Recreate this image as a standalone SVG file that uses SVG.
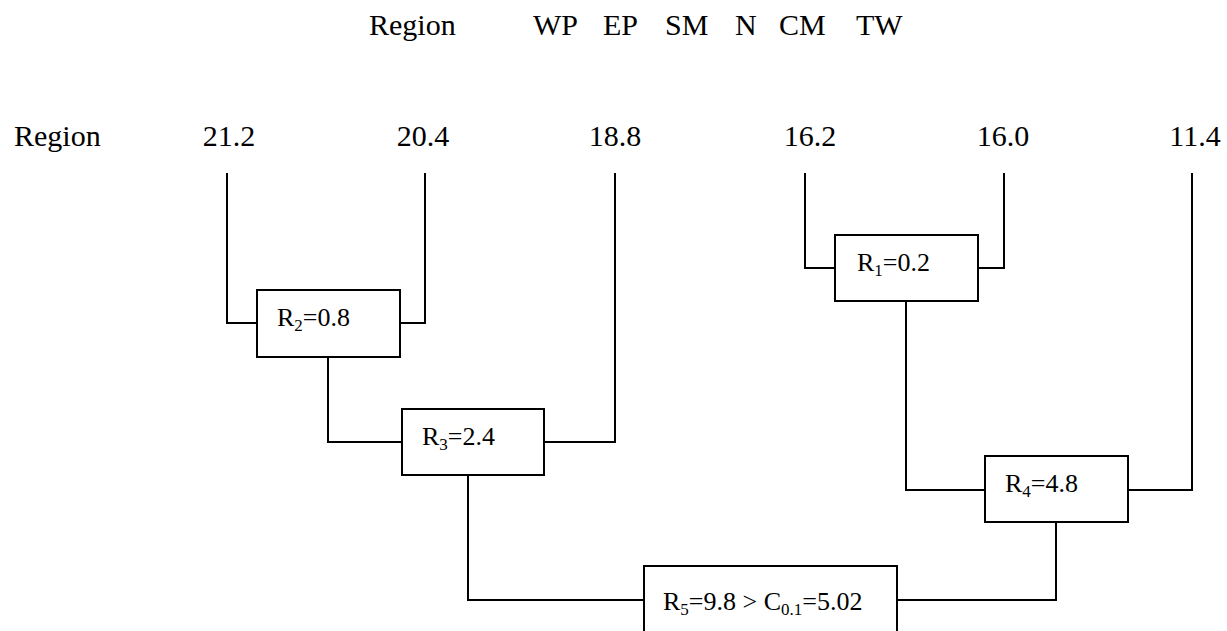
<svg xmlns="http://www.w3.org/2000/svg" width="1227" height="631" viewBox="0 0 1227 631">
  <style>
    .hdr { font-size: 30px; }
    .val { font-size: 30px; text-anchor: middle; }
    .lbl { font-size: 26px; }
    .sub { font-size: 17px; }
    .box { fill: #fff; stroke: #000; stroke-width: 2; }
    .wire { fill: none; stroke: #000; stroke-width: 2; }
  </style>
  <rect width="1227" height="631" fill="#fff"/>

  <g font-family="'Liberation Serif', 'Times New Roman', Times, 'DejaVu Serif', serif" fill="#000">
    <!-- header row -->
    <g id="header">
      <text class="hdr" x="369" y="35">Region</text>
      <text class="hdr" x="533" y="35">WP</text>
      <text class="hdr" x="603" y="35">EP</text>
      <text class="hdr" x="665" y="35">SM</text>
      <text class="hdr" x="735" y="35">N</text>
      <text class="hdr" x="779" y="35">CM</text>
      <text class="hdr" x="856" y="35">TW</text>
    </g>

    <!-- region means -->
    <g id="means">
      <text class="hdr" x="14" y="146">Region</text>
      <text class="val" x="229" y="146">21.2</text>
      <text class="val" x="423" y="146">20.4</text>
      <text class="val" x="615" y="146">18.8</text>
      <text class="val" x="810" y="146">16.2</text>
      <text class="val" x="1003" y="146">16.0</text>
      <text class="val" x="1195" y="146">11.4</text>
    </g>

    <!-- connectors -->
    <g id="connectors">
      <path class="wire" d="M227,173 V323 H257"/>
      <path class="wire" d="M425,173 V323 H400"/>
      <path class="wire" d="M328,357 V442 H402"/>
      <path class="wire" d="M615,173 V442 H544"/>
      <path class="wire" d="M805,173 V268 H835"/>
      <path class="wire" d="M1004,173 V268 H978"/>
      <path class="wire" d="M906,301 V490 H985"/>
      <path class="wire" d="M1192,173 V490 H1128"/>
      <path class="wire" d="M468,475 V600 H644"/>
      <path class="wire" d="M1056,522 V600 H897"/>
    </g>

    <!-- range boxes -->
    <g id="r1">
      <rect class="box" x="835" y="235" width="143" height="66"/>
      <text class="lbl" x="857" y="271">R<tspan class="sub" dy="5">1</tspan><tspan dy="-5">=0.2</tspan></text>
    </g>
    <g id="r2">
      <rect class="box" x="257" y="290" width="143" height="67"/>
      <text class="lbl" x="277" y="326">R<tspan class="sub" dy="5">2</tspan><tspan dy="-5">=0.8</tspan></text>
    </g>
    <g id="r3">
      <rect class="box" x="402" y="409" width="142" height="66"/>
      <text class="lbl" x="422" y="445">R<tspan class="sub" dy="5">3</tspan><tspan dy="-5">=2.4</tspan></text>
    </g>
    <g id="r4">
      <rect class="box" x="985" y="456" width="143" height="66"/>
      <text class="lbl" x="1005" y="492">R<tspan class="sub" dy="5">4</tspan><tspan dy="-5">=4.8</tspan></text>
    </g>
    <g id="r5">
      <rect class="box" x="644" y="566" width="253" height="80"/>
      <text class="lbl" x="663" y="610">R<tspan class="sub" dy="5">5</tspan><tspan dy="-5">=9.8 &gt; C</tspan><tspan class="sub" dy="5">0.1</tspan><tspan dy="-5">=5.02</tspan></text>
    </g>
  </g>
</svg>
